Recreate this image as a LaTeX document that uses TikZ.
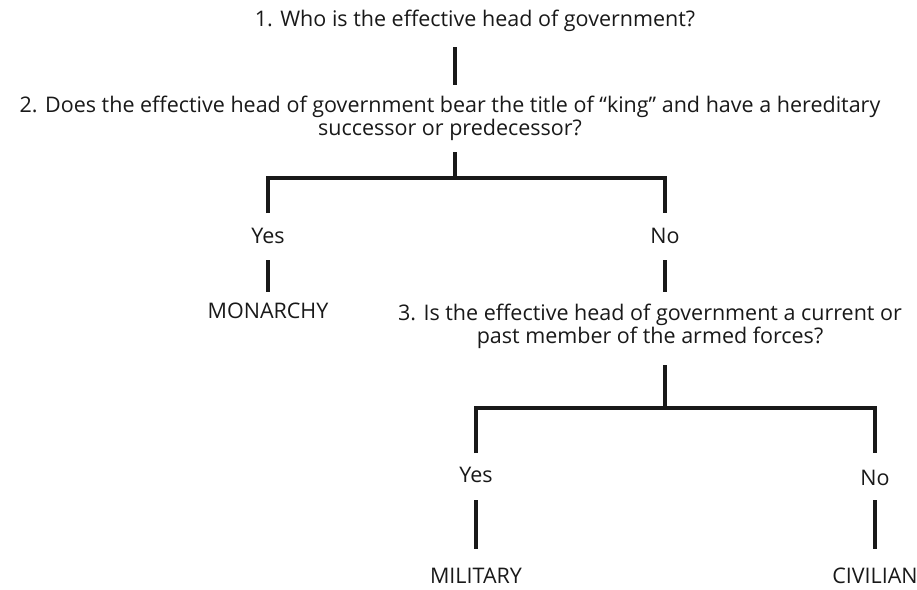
\documentclass[tikz,border=0pt]{standalone}
\usepackage{fontspec}
\setmainfont{Open Sans}
\begin{document}
\begin{tikzpicture}[x=1pt,y=-1pt,
  txt/.style={inner sep=0pt,anchor=base,font=\fontsize{21.5}{23}\selectfont,text=black!90},
  conn/.style={line width=4.5pt,black!90,line cap=butt,line join=miter}]
\useasboundingbox (0,0) rectangle (917,589);
% texts
\node[txt] (q1) at (475,26) {1. Who is the effective head of government?};
\node[txt,align=center] (q2) at (450,135) {2. Does the effective head of government bear the title of “king” and have a hereditary\\successor or predecessor?};
\node[txt] (yes1) at (268,243) {Yes};
\node[txt] (no1) at (665,243) {No};
\node[txt] (mon) at (268,318) {MONARCHY};
\node[txt,align=center] (q3) at (650,343) {3. Is the effective head of government a current or\\past member of the armed forces?};
\node[txt] (yes2) at (476,482) {Yes};
\node[txt] (no2) at (875,485) {No};
\node[txt] (mil) at (476,583) {MILITARY};
\node[txt] (civ) at (875,583) {CIVILIAN};
% connector end points
\coordinate (a1) at (455,47);  \coordinate (a2) at (455,85);
\coordinate (b1) at (455,152); \coordinate (j1) at (455,178);
\coordinate (yl) at (268,213); \coordinate (nl) at (665,213);
\coordinate (yl2) at (268,260); \coordinate (ml) at (268,292);
\coordinate (nl2) at (665,260); \coordinate (ql) at (665,292);
\coordinate (c1) at (665,365); \coordinate (j2) at (665,408);
\coordinate (yr) at (476,453); \coordinate (nr) at (875,453);
\coordinate (yr2) at (476,500); \coordinate (mr) at (476,549);
\coordinate (nr2) at (875,500); \coordinate (cr) at (875,549);
% connectors
\draw[conn] (a1) -- (a2);
\draw[conn] (b1) -- (j1);
\draw[conn] (yl) |- (j1) -| (nl);
\draw[conn] (yl2) -- (ml);
\draw[conn] (nl2) -- (ql);
\draw[conn] (c1) -- (j2);
\draw[conn] (yr) |- (j2) -| (nr);
\draw[conn] (yr2) -- (mr);
\draw[conn] (nr2) -- (cr);
\end{tikzpicture}
\end{document}
